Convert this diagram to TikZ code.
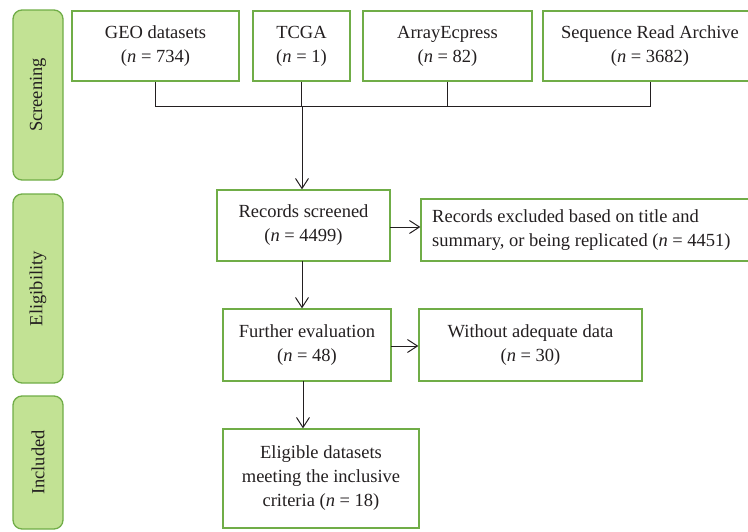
\documentclass[tikz,border=0pt]{standalone}
\usepackage{fontspec}
\setmainfont{Liberation Serif}
\usetikzlibrary{arrows.meta,calc}
\definecolor{boxgreen}{RGB}{112,173,71}
\definecolor{panelfill}{RGB}{194,226,148}
\definecolor{txt}{RGB}{35,31,32}
\begin{document}
\begin{tikzpicture}[x=1pt,y=-1pt,
  every node/.style={font=\fontsize{18.5}{24}\selectfont, text=txt},
  databox/.style={draw=boxgreen, line width=1.3pt, fill=white, inner sep=0pt, align=center},
  panel/.style={draw=boxgreen, line width=1.3pt, fill=panelfill, rounded corners=9pt, inner sep=0pt, minimum width=50pt},
  conn/.style={draw=txt, line width=1pt},
  arr/.style={conn, -{Straight Barb[length=10pt,width=13pt,line width=1pt]}}
]
\useasboundingbox (0,0) rectangle (748,531);
% side panels
\node[panel, minimum height=170pt] (pscr) at (38,95) {};
\node[rotate=90] (tscr) at (pscr.center) {Screening};
\node[panel, minimum height=189pt] (pel) at (38,288.5) {};
\node[rotate=90] (tel) at (pel.center) {Eligibility};
\node[panel, minimum height=133pt] (pinc) at (38,462.5) {};
\node[rotate=90] (tinc) at (pinc.center) {Included};
% top boxes
\node[databox, minimum width=167pt, minimum height=70pt] (geo) at (155.5,46) {GEO datasets\\(\textit{n} = 734)};
\node[databox, minimum width=97pt, minimum height=70pt] (tcga) at (301.5,46) {TCGA\\(\textit{n} = 1)};
\node[databox, minimum width=169pt, minimum height=70pt] (arr) at (447.5,46) {ArrayEcpress\\(\textit{n} = 82)};
\node[databox, minimum width=214pt, minimum height=70pt] (sra) at (650,46) {Sequence Read Archive\\(\textit{n} = 3682)};
% middle
\node[databox, minimum width=173pt, minimum height=71pt] (rs) at (303.5,225.5) {Records screened\\(\textit{n} = 4499)};
\node[databox, minimum width=331pt, minimum height=62pt] (re) at (586.5,230) {};
\node[align=left, anchor=west, inner sep=0pt] (ret) at (432,230) {Records excluded based on title and\\summary, or being replicated (\textit{n} = 4451)};
\node[databox, minimum width=168pt, minimum height=72pt] (fe) at (307,345) {Further evaluation\\(\textit{n} = 48)};
\node[databox, minimum width=223pt, minimum height=72pt] (wa) at (530.5,345) {Without adequate data\\(\textit{n} = 30)};
\node[databox, minimum width=196pt, minimum height=99pt] (el) at (321,478.5) {Eligible datasets\\meeting the inclusive\\criteria (\textit{n} = 18)};
% connectors
\coordinate (j) at (302,106);
\draw[conn] (geo.south) -- (geo.south |- j) -- (650,106) -- (sra.south);
\draw[conn] (tcga.south) -- (tcga.south |- j);
\draw[conn] (arr.south) -- (arr.south |- j);
\draw[arr] (j) -- (j |- rs.north);
\coordinate (rsb) at (302,261);
\draw[arr] (rsb) -- (rsb |- fe.north);
\coordinate (rse) at (390,227);
\draw[arr] (rse) -- (rse -| re.west);
\coordinate (fee) at (391,346);
\draw[arr] (fee) -- (fee -| wa.west);
\coordinate (feb) at (303,381);
\draw[arr] (feb) -- (feb |- el.north);
\end{tikzpicture}
\end{document}
